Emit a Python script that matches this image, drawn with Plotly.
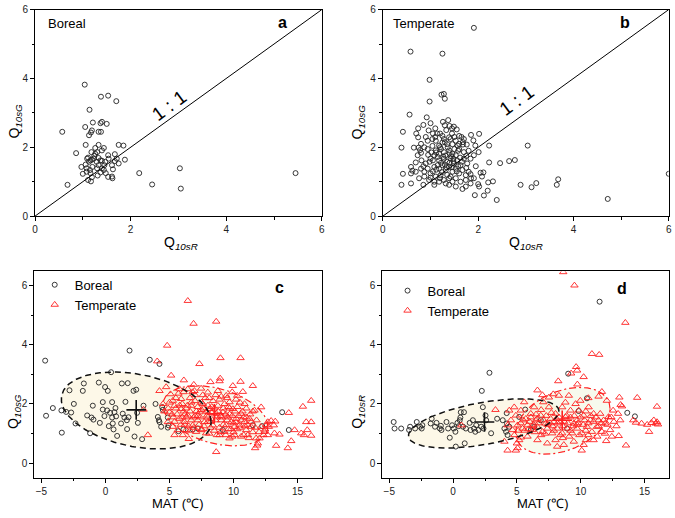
import numpy as np
import plotly.graph_objects as go

# ---------------- data ----------------
# Panel a (Boreal): Q10sR vs Q10sG
QR_A = [1.04,1.38,1.53,1.70,1.14,0.57,1.05,1.21,1.40,1.50,
        1.37,1.19,1.17,1.13,1.33,1.38,1.06,0.86,1.33,1.75,
        1.85,1.44,1.26,1.18,1.30,1.40,1.53,1.67,1.88,1.71,
        1.75,1.67,1.61,1.63,1.11,1.19,1.24,1.33,1.40,1.33,
        1.45,1.40,1.48,1.53,1.61,1.62,1.13,1.06,0.97,1.08,
        1.15,1.08,1.00,1.16,1.31,1.11,1.17,1.19,0.68,2.18,
        2.45,3.03,3.05,5.45,1.26,1.23,1.37,1.29,1.20,1.30,
        1.44,1.37,1.47,1.54,1.16,1.09]
QG_A = [3.82,3.47,3.50,3.34,3.09,2.45,2.59,2.72,2.74,2.68,
        2.70,2.49,2.43,2.35,2.45,2.45,2.07,1.83,2.07,2.07,
        2.05,1.98,1.98,1.86,1.86,1.91,1.77,1.80,1.64,1.67,
        1.53,1.60,1.48,1.36,1.70,1.64,1.75,1.69,1.61,1.48,
        1.48,1.39,1.25,1.14,1.15,1.10,1.58,1.50,1.43,1.39,
        1.34,1.29,1.23,1.25,1.18,1.05,1.01,1.13,0.91,1.25,
        0.92,1.39,0.80,1.25,1.81,1.67,1.62,1.58,1.43,1.39,
        1.34,1.27,1.58,1.67,1.62,1.67]

# Panel b (Temperate): Q10sR vs Q10sG
QR_B = [1.91,0.58,1.25,0.98,1.23,1.28,1.30,0.98,0.56,0.92,
        0.42,0.39,0.42,0.39,0.59,3.04,2.77,2.65,2.46,2.23,
        2.23,2.02,2.89,3.12,3.22,3.65,3.68,4.72,6.00,2.39,
        2.12,1.93,2.20,2.31,2.21,2.05,2.11,2.08,2.00,2.02,
        1.95,1.84,
        1.26,1.37,1.30,1.49,1.55,0.74,0.85,0.96,0.74,1.14,
        1.20,1.39,1.60,1.70,1.85,1.68,1.76,1.94,0.65,0.75,
        0.87,0.94,1.04,1.11,0.73,0.80,0.69,0.81,0.90,1.00,
        1.08,1.18,1.28,1.39,1.46,1.53,1.60,1.70,1.25,1.35,
        1.46,1.53,1.28,1.42,1.18,1.11,1.04,0.94,1.18,1.28,
        1.35,1.42,1.49,1.56,1.63,1.70,1.77,1.84,1.91,2.01,
        1.08,1.18,1.25,1.32,1.39,1.46,1.53,1.60,1.67,1.74,
        1.80,0.94,0.87,0.80,0.69,0.62,0.59,1.00,1.11,1.21,
        1.28,1.39,1.46,1.53,1.63,1.74,1.18,1.08,0.97,0.87,
        0.76,0.59,0.85,1.08,1.39,1.53,1.67,1.74,1.84,1.91,
        1.15,1.22,1.31,1.43,1.50,1.36,1.22,1.12,1.02,0.98,
        1.05,1.24,1.35,1.45,1.58,1.66,1.48,1.30,1.15,1.40,
        1.20,1.32,1.57,1.65,1.45,1.33,1.10,1.00,1.40,1.60,
        0.80,0.70,1.80,1.90,0.90,1.25,1.05,1.45,1.75,1.85,
        1.05,1.12,1.27,1.33,1.40,1.48,1.55,1.62,1.20,1.30,
        0.95,0.85,1.00,1.42,1.58,1.68,1.75,1.10,0.78,1.50]
QG_B = [5.47,4.78,4.72,3.96,3.53,3.55,3.41,3.33,2.95,2.87,
        2.45,1.99,1.23,0.91,0.95,2.05,1.63,1.60,1.54,1.56,
        2.05,2.39,0.91,0.84,0.96,0.91,1.07,0.50,1.23,0.47,
        0.60,0.61,0.74,1.01,0.98,1.26,1.27,1.15,0.93,0.86,
        1.45,1.22,
        2.74,2.79,2.64,2.60,2.52,2.55,2.65,2.49,2.29,2.40,
        2.40,2.29,2.33,2.24,2.36,2.08,2.08,2.05,1.99,1.99,
        2.00,1.95,2.04,1.91,1.77,1.84,1.56,1.62,1.53,1.67,
        1.77,1.81,1.86,1.91,1.81,1.77,1.95,1.86,2.14,2.09,
        2.09,2.19,2.24,2.24,2.05,2.19,2.24,2.19,1.62,1.67,
        1.58,1.67,1.53,1.62,1.48,1.67,1.53,1.67,1.77,1.86,
        1.43,1.38,1.48,1.34,1.43,1.29,1.38,1.24,1.34,1.19,
        1.29,1.38,1.29,1.38,1.29,1.32,1.43,1.24,1.15,1.19,
        1.05,1.10,1.00,1.10,1.00,1.05,1.00,1.00,1.05,1.15,
        1.10,1.24,0.91,0.91,0.91,0.86,0.79,0.86,0.95,1.10,
        1.72,1.55,1.76,1.74,1.95,2.00,1.95,1.85,1.85,1.58,
        1.30,1.28,1.20,1.42,1.45,1.58,1.67,1.50,1.48,1.55,
        1.10,0.95,2.05,2.30,2.40,2.50,2.55,2.70,2.62,2.10,
        2.10,2.40,1.90,2.20,2.30,2.33,2.40,2.55,1.40,1.10,
        1.62,1.35,1.72,1.42,1.83,1.60,1.30,1.70,2.00,2.15,
        1.78,1.45,1.12,1.15,1.90,2.15,1.75,2.30,1.92,2.30]

# Panel c: MAT vs Q10sG
MAT_C_BOR = [-4.71,-4.64,-4.11,-3.44,-3.41,-3.07,-2.68,-2.81,-2.47,-2.34,
             -1.77,-1.69,-1.43,-1.20,-1.09,-0.99,-0.94,-0.52,-0.44,-0.21,
             -0.21,-0.08,-0.03,0.13,0.18,0.26,0.36,0.44,0.52,0.52,
             0.57,0.63,0.70,0.78,0.83,0.91,1.22,1.28,1.35,1.48,
             1.56,1.67,1.69,1.74,1.80,1.88,2.19,2.27,2.40,2.47,
             2.53,2.86,2.97,3.46,3.91,4.09,4.17,4.22,4.35,4.43,
             4.87,4.87,5.70,6.09,6.82,7.21,9.17,12.24,13.80,14.32,
             4.48,4.22,4.92,11.51]
QG_C_BOR = [3.46,1.60,1.86,1.78,1.03,1.73,1.71,2.46,2.00,1.34,
            2.44,2.69,1.61,1.01,1.54,1.94,1.47,2.72,1.36,2.06,
            1.81,1.59,2.57,1.78,2.44,1.25,1.70,3.07,2.06,1.54,
            1.34,1.14,1.72,1.86,1.58,0.92,1.34,2.69,1.67,1.54,
            2.07,1.45,1.15,2.70,1.55,3.80,2.44,0.90,2.48,1.70,
            1.36,0.81,1.94,3.49,2.00,1.56,1.45,3.35,1.23,1.89,
            1.54,1.20,1.08,1.14,1.14,1.17,1.12,1.25,1.72,1.12,
            1.80,1.39,1.28,1.28]
MAT_C_TEM = [6.43,6.88,8.65,4.82,7.34,8.98,10.55,4.04,5.13,8.96,
             6.12,8.20,10.55,9.95,11.51,10.73,4.74,4.22,2.97,3.31,
             6.51,8.65,11.51,12.94,13.26,13.33,13.59,14.24,14.32,14.51,
             14.77,15.42,15.29,15.50,15.68,15.76,16.07,16.07,16.07,11.69,
             11.85,12.03,12.47,12.68,12.34,12.76,
             8.91,5.08,5.78,6.43,6.95,7.47,7.99,8.78,9.43,9.04,
             9.69,10.29,10.86,11.64,12.16,12.68,13.15,13.20,11.77,11.90,
             11.12,10.60,10.08,9.69,9.30,8.91,5.65,5.26,4.87,5.00,
             5.39,5.26,5.91,5.91,5.78,6.17,6.43,6.69,6.82,7.21,
             7.34,7.60,7.73,7.94,8.13,8.26,8.39,8.65,8.78,9.04,
             9.17,9.43,9.56,9.82,9.95,10.08,10.21,10.47,10.60,10.86,
             10.99,11.25,11.38,12.16,12.42,12.55,7.08,7.47,7.86,6.30,
             6.04,5.39,
             6.0,6.3,6.6,7.0,7.2,7.5,7.8,8.0,8.4,8.6,
             9.3,9.6,9.9,10.3,10.5,11.0,11.3,11.8,12.0,10.8,
             10.3,10.0,9.6,9.2,8.9,8.5,8.2,7.7,7.4,7.0,
             6.7,6.5,6.2,5.6,5.5,5.0,4.6,4.5,5.3,5.7,
             6.1,6.9,7.6,8.3,8.8,9.1,9.7,10.1,10.6,11.1,
             11.5,11.2,10.8,9.9,9.4,8.7,8.1,7.3,6.9,6.2,
             8.0,8.6,9.0,9.5,10.0,10.4,7.9,7.1,6.6,6.0,
             5.2,5.4,5.8,6.1,6.4,6.7,6.9,7.2,7.5,7.7,
             8.0,8.3,8.5,8.7,8.9,9.2,9.4,9.7,9.9,10.2,
             10.5,10.7,11.0,11.4,11.7,10.9,9.8,9.0,8.2,7.5,
             6.6,6.3,5.9,7.0,8.1,9.5,10.2,6.8,5.5,4.9]
QG_C_TEM = [5.48,4.71,4.78,3.97,3.35,3.55,3.55,3.44,2.96,2.86,
            2.80,2.74,2.75,2.61,2.61,2.41,2.57,2.44,1.81,0.95,
            0.82,0.38,1.75,1.43,1.41,0.59,0.97,0.51,1.70,0.75,
            1.12,1.91,1.01,0.95,1.39,1.12,2.11,1.39,0.93,0.51,
            0.60,0.84,1.14,0.95,0.95,1.23,
            2.77,2.33,2.50,2.50,2.44,2.52,2.39,2.44,2.28,2.25,
            2.06,2.28,2.00,1.78,1.89,1.39,1.28,1.01,0.84,0.67,
            0.95,0.90,0.95,0.84,1.06,0.95,1.12,1.23,1.39,1.72,
            1.94,2.11,2.17,1.83,1.50,1.39,1.61,1.94,1.28,1.45,
            1.72,2.00,1.39,1.61,1.83,1.50,1.28,1.67,1.94,1.45,
            1.72,1.28,1.55,1.39,1.83,1.23,1.50,1.28,1.67,1.39,
            1.12,1.50,1.23,1.23,1.06,1.28,1.06,1.12,1.01,1.12,
            0.95,0.95,
            2.00,1.85,2.20,2.10,1.90,1.80,2.20,1.95,2.10,2.30,
            2.00,1.90,2.40,1.90,2.05,1.85,1.65,1.45,1.05,1.55,
            1.15,1.05,1.15,1.30,1.20,1.10,1.20,1.25,1.55,1.60,
            1.45,1.25,1.65,1.65,1.85,2.05,1.75,2.00,1.55,2.35,
            2.40,2.65,2.30,1.90,1.75,1.55,1.65,1.75,1.45,1.30,
            1.05,0.85,0.95,0.90,0.95,0.95,1.00,1.30,1.20,1.30,
            1.40,1.45,1.60,1.45,1.35,1.60,1.75,1.75,1.75,1.55,
            1.65,1.40,1.95,1.75,1.95,2.05,1.55,1.60,2.05,1.85,
            1.55,1.70,1.85,1.55,2.15,1.85,1.65,1.85,1.60,1.40,
            1.20,1.75,1.55,1.40,1.20,1.25,1.15,1.05,1.40,1.15,
            1.10,1.55,1.30,2.30,2.20,2.20,2.15,2.40,2.20,1.85]

# Panel d: MAT vs Q10sR
MAT_D_BOR = [-4.66,-4.59,-4.07,-3.37,-3.45,-2.98,-2.85,-2.59,-2.41,-2.46,
             -1.68,-1.76,-1.42,-1.30,-1.04,-0.96,-0.91,-0.52,-0.39,-0.26,
             -0.08,0.05,0.18,0.21,0.34,0.44,0.52,0.57,0.60,0.85,
             0.78,0.91,1.00,1.30,1.37,1.55,1.63,1.74,1.81,1.99,
             2.20,2.25,2.33,2.38,2.54,2.59,2.85,2.98,3.45,3.89,
             4.02,4.15,4.20,4.22,4.27,4.40,5.18,5.65,6.09,6.35,
             9.02,9.84,10.49,11.48,8.94,13.65,14.25,6.87]
QR_D_BOR = [1.39,1.17,1.17,1.23,1.12,1.17,1.39,1.23,1.28,1.17,
            1.50,1.34,1.23,1.36,1.17,1.26,1.12,1.39,1.17,0.86,
            1.28,1.17,1.06,0.56,1.36,1.25,1.45,1.54,1.72,1.72,
            1.23,0.67,1.17,1.36,1.12,1.45,1.17,1.06,1.28,1.12,
            1.23,2.44,1.89,1.17,1.61,1.45,3.05,1.01,1.50,1.45,
            1.17,1.06,1.69,1.34,0.95,1.23,1.56,1.81,1.12,1.23,
            3.02,1.76,2.19,5.45,1.17,1.70,1.58,1.45]
MAT_D_TEM = [8.63,9.51,9.64,9.72,9.25,10.23,10.88,11.45,13.50,8.24,
             9.74,6.61,11.66,11.40,13.03,14.43,13.13,13.24,15.98,3.32,
             0.65,4.02,4.27,4.92,5.00,5.31,10.08,10.41,12.98,13.55,
             14.12,14.33,14.77,15.21,15.36,15.54,15.73,15.88,16.06,15.98,
             7.85,8.29,7.51,7.07,9.07,9.97,12.05,12.93,12.54,12.18,
             11.92,11.40,11.01,10.62,10.23,9.72,9.20,8.81,8.42,8.03,
             7.64,7.25,6.87,6.48,6.09,5.70,5.31,4.92,4.53,4.27,
             4.66,5.05,5.44,5.83,6.22,6.61,7.00,7.38,7.77,8.16,
             8.55,8.94,9.33,9.72,10.10,10.49,10.88,11.27,11.66,12.31,
             12.44,11.01,10.23,9.46,8.68,8.03,7.38,8.16,6.61,5.83,
             5.18,5.05,7.90,7.51,9.46,9.85,6.35,5.57,4.79,4.40,
             8.55,10.75,11.53,
             6.0,6.3,6.7,7.1,7.4,7.8,8.2,8.6,9.0,9.4,
             9.8,10.2,10.6,11.0,11.4,11.8,12.1,5.6,6.4,7.2,
             8.4,9.1,9.9,10.6,11.3,5.5,6.1,6.9,7.7,8.3,
             8.9,9.5,10.0,10.4,11.2,7.0,8.8,9.6,10.6,6.5,
             12.0,12.6,5.1,4.8,13.1,12.8,
             6.2,6.6,7.3,7.6,8.1,8.7,9.2,9.7,10.3,10.8,
             11.6,12.4,7.9,9.2,10.4,6.9,5.9,5.3,11.9,8.6]
QR_D_TEM = [6.45,6.00,3.25,3.13,3.03,2.91,3.69,3.66,4.74,2.77,
            2.66,2.46,2.41,2.25,2.22,2.21,1.97,1.92,1.91,1.80,
            1.28,0.73,0.43,0.43,0.67,0.87,0.43,0.78,0.92,0.60,
            1.45,1.37,1.34,1.30,1.06,1.36,1.45,1.34,1.31,1.39,
            2.33,2.28,2.22,2.06,2.28,2.11,2.11,1.67,1.78,1.56,
            1.34,1.45,1.67,1.89,1.61,1.45,1.78,1.56,1.39,1.67,
            1.50,1.34,1.61,1.45,1.67,1.50,1.78,1.61,1.45,1.28,
            1.12,1.28,1.17,1.28,1.12,1.23,1.06,1.17,1.01,1.17,
            1.01,1.17,1.01,1.17,1.01,1.23,1.06,1.23,1.06,1.12,
            0.90,0.78,0.62,0.73,0.62,0.78,0.67,0.56,0.78,0.90,
            0.78,0.51,1.39,1.89,1.34,1.78,1.89,2.06,1.89,1.78,
            1.89,1.45,1.67,
            1.40,1.30,1.35,1.45,1.30,1.25,1.35,1.25,1.35,1.25,
            1.35,1.30,1.35,1.40,1.25,1.45,1.30,1.10,1.05,1.00,
            0.95,0.90,0.95,0.95,0.90,1.45,1.55,1.80,1.70,1.55,
            1.60,1.60,1.55,1.75,1.55,2.30,2.05,2.00,2.20,1.65,
            0.75,1.40,1.10,0.95,1.45,1.25,
            1.25,1.50,1.60,1.35,1.50,1.40,1.55,1.30,1.45,1.60,
            1.35,1.55,1.10,1.10,1.10,0.95,1.15,1.35,1.00,0.85]

# group means (+ marks) and confidence ellipses: (cx, cy, rx, ry, shear)
MEAN_C = {"Boreal": (2.40, 1.80), "Temperate": (8.50, 1.67)}
MEAN_D = {"Boreal": (2.46, 1.39), "Temperate": (8.55, 1.45)}
ELL_C = {"Boreal": (2.40, 1.78, 5.85, 1.24, -0.066), "Temperate": (8.58, 1.60, 4.10, 0.95, -0.088)}
ELL_D = {"Boreal": (2.40, 1.34, 5.90, 0.72, 0.070), "Temperate": (8.60, 1.43, 3.70, 1.05, 0.110)}

ONE_TO_ONE = [0, 6]
TICKS_Q = [0, 2, 4, 6]
TICKS_MAT = [-5, 0, 5, 10, 15]

# ---------------- figure ----------------
FONT = "Liberation Sans, Arial, sans-serif"
W, H = 675, 518


def px_x(p):
    return p / W


def px_y(p):
    return 1 - p / H


fig = go.Figure()

circ = dict(symbol="circle-open", size=5, color="#222", line=dict(width=0.9))
tri = dict(symbol="triangle-up-open", size=6.5, color="#ff2020", line=dict(width=0.9))


def ellipse(params, n=240):
    cx, cy, rx, ry, s = params
    t = np.linspace(0, 2 * np.pi, n)
    x = cx + rx * np.cos(t)
    y = cy + ry * np.sin(t) + s * rx * np.cos(t)
    return x, y


fig.add_trace(go.Scatter(x=QR_A, y=QG_A, mode="markers", marker=circ, xaxis="x", yaxis="y", showlegend=False))
fig.add_trace(go.Scatter(x=QR_B, y=QG_B, mode="markers", marker=circ, xaxis="x2", yaxis="y2", showlegend=False))

for (xa, ya, ell, mean, mb, qb, mt, qt, leg) in [
    ("x3", "y3", ELL_C, MEAN_C, MAT_C_BOR, QG_C_BOR, MAT_C_TEM, QG_C_TEM, "legend"),
    ("x4", "y4", ELL_D, MEAN_D, MAT_D_BOR, QR_D_BOR, MAT_D_TEM, QR_D_TEM, "legend2"),
]:
    ex, ey = ellipse(ell["Boreal"])
    fig.add_trace(go.Scatter(x=ex, y=ey, mode="lines", fill="toself", fillcolor="rgba(250,240,205,0.45)",
                             line=dict(width=0), xaxis=xa, yaxis=ya, showlegend=False, hoverinfo="skip"))
    ex, ey = ellipse(ell["Temperate"])
    fig.add_trace(go.Scatter(x=ex, y=ey, mode="lines", fill="toself", fillcolor="rgba(238,245,215,0.45)",
                             line=dict(width=0), xaxis=xa, yaxis=ya, showlegend=False, hoverinfo="skip"))
    fig.add_trace(go.Scatter(x=mb, y=qb, mode="markers", marker=circ, name="Boreal",
                             xaxis=xa, yaxis=ya, legend=leg))
    fig.add_trace(go.Scatter(x=mt, y=qt, mode="markers", marker=tri, name="Temperate",
                             xaxis=xa, yaxis=ya, legend=leg))
    ex, ey = ellipse(ell["Boreal"])
    fig.add_trace(go.Scatter(x=ex, y=ey, mode="lines", line=dict(color="#111", width=1.5, dash="6px,4px"),
                             xaxis=xa, yaxis=ya, showlegend=False, hoverinfo="skip"))
    ex, ey = ellipse(ell["Temperate"])
    fig.add_trace(go.Scatter(x=ex, y=ey, mode="lines", line=dict(color="#ff2020", width=1.2, dash="7px,3px,2px,3px"),
                             xaxis=xa, yaxis=ya, showlegend=False, hoverinfo="skip"))
    fig.add_trace(go.Scatter(x=[mean["Boreal"][0]], y=[mean["Boreal"][1]], mode="markers",
                             marker=dict(symbol="cross-thin", size=14, line=dict(width=1.6, color="#111")),
                             xaxis=xa, yaxis=ya, showlegend=False))
    fig.add_trace(go.Scatter(x=[mean["Temperate"][0]], y=[mean["Temperate"][1]], mode="markers",
                             marker=dict(symbol="cross-thin", size=14, line=dict(width=1.6, color="#ff2020")),
                             xaxis=xa, yaxis=ya, showlegend=False))

axis_common = dict(showline=True, linecolor="black", linewidth=1, mirror=True, ticks="outside",
                   ticklen=4, tickwidth=1, tickcolor="black", showgrid=False, zeroline=False,
                   ticklabeloverflow="allow",
                   tickfont=dict(family=FONT, size=10, color="#222"))

dom_a_x = [px_x(32.3), px_x(321.7)]
dom_b_x = [px_x(383.3), px_x(671.7)]
dom_top_y = [px_y(215.3), px_y(4.7)]
dom_c_x = [px_x(31.7), px_x(321.7)]
dom_d_x = [px_x(382.7), px_x(671.7)]
dom_bot_y = [px_y(482), px_y(271.7)]

q_axis = dict(range=[0, 6], tickvals=TICKS_Q, minor=dict(ticks="outside", ticklen=2.5, tickwidth=1,
              tickcolor="black", dtick=1, tick0=0, showgrid=False))
mat_axis = dict(range=[-5.55, 16.9], tickvals=TICKS_MAT, minor=dict(ticks="outside", ticklen=2.5,
                tickwidth=1, tickcolor="black", dtick=2.5, tick0=-5, showgrid=False))
qy_axis = dict(range=[-0.49, 6.47], tickvals=TICKS_Q, minor=dict(ticks="outside", ticklen=2.5,
               tickwidth=1, tickcolor="black", dtick=1, tick0=0, showgrid=False))


def ax(extra, **kw):
    d = dict(axis_common)
    d.update(extra)
    d.update(kw)
    return d


fig.update_layout(
    width=W, height=H, margin=dict(l=0, r=0, t=0, b=0),
    paper_bgcolor="white", plot_bgcolor="white",
    font=dict(family=FONT, size=12, color="black"),
    xaxis=ax(q_axis, domain=dom_a_x, anchor="y"),
    yaxis=ax(q_axis, domain=dom_top_y, anchor="x"),
    xaxis2=ax(q_axis, domain=dom_b_x, anchor="y2"),
    yaxis2=ax(q_axis, domain=dom_top_y, anchor="x2"),
    xaxis3=ax(mat_axis, domain=dom_c_x, anchor="y3"),
    yaxis3=ax(qy_axis, domain=dom_bot_y, anchor="x3"),
    xaxis4=ax(mat_axis, domain=dom_d_x, anchor="y4"),
    yaxis4=ax(qy_axis, domain=dom_bot_y, anchor="x4"),
    legend=dict(x=px_x(32), y=px_y(270), xanchor="left", yanchor="top", bgcolor="rgba(0,0,0,0)",
                font=dict(family=FONT, size=13), itemwidth=30, tracegroupgap=0),
    legend2=dict(x=px_x(388), y=px_y(276), xanchor="left", yanchor="top", bgcolor="rgba(0,0,0,0)",
                 font=dict(family=FONT, size=13), itemwidth=30, tracegroupgap=0),
)

for xr, yr in [("x", "y"), ("x2", "y2")]:
    fig.add_shape(type="line", x0=ONE_TO_ONE[0], y0=ONE_TO_ONE[0], x1=ONE_TO_ONE[1], y1=ONE_TO_ONE[1],
                  xref=xr, yref=yr, line=dict(color="black", width=1))

ann = []
ann.append(dict(x=2.81, y=3.2, xref="x", yref="y", text="1 : 1", showarrow=False, textangle=-36,
                font=dict(family=FONT, size=19)))
ann.append(dict(x=2.80, y=3.37, xref="x2", yref="y2", text="1 : 1", showarrow=False, textangle=-36,
                font=dict(family=FONT, size=19)))


def pann(text, x, y, size=13, bold=False, xanchor="center"):
    t = f"<b>{text}</b>" if bold else text
    ann.append(dict(x=px_x(x), y=px_y(y), xref="paper", yref="paper", text=t, showarrow=False,
                    xanchor=xanchor, yanchor="middle", font=dict(family=FONT, size=size, color="black")))


pann("Boreal", 43, 19, 13, xanchor="left")
pann("Temperate", 391, 19, 13, xanchor="left")
pann("a", 282, 18, 16, True)
pann("b", 628, 18, 16, True)
pann("c", 279, 288, 16, True)
pann("d", 625, 289, 16, True)

QG = "Q<sub><i>10sG</i></sub>"
QR = "Q<sub><i>10sR</i></sub>"


def title(text, x, y, angle=0, size=14):
    ann.append(dict(x=px_x(x), y=px_y(y), xref="paper", yref="paper", text=text, showarrow=False,
                    textangle=angle, xanchor="center", yanchor="middle",
                    font=dict(family=FONT, size=size, color="black")))


title(QG, 12, 118, -90)
title(QG, 358, 119, -90)
title(QR, 180, 243)
title(QR, 528, 243)
title(QG, 11, 414, -90)
title(QR, 358, 415, -90)
title("MAT (℃)", 177, 508, size=13)
title("MAT (℃)", 545, 508, size=13)

fig.update_layout(annotations=ann)

fig.write_html("out.html", config={"displayModeBar": False},
               post_script="document.body.style.margin='0';")
